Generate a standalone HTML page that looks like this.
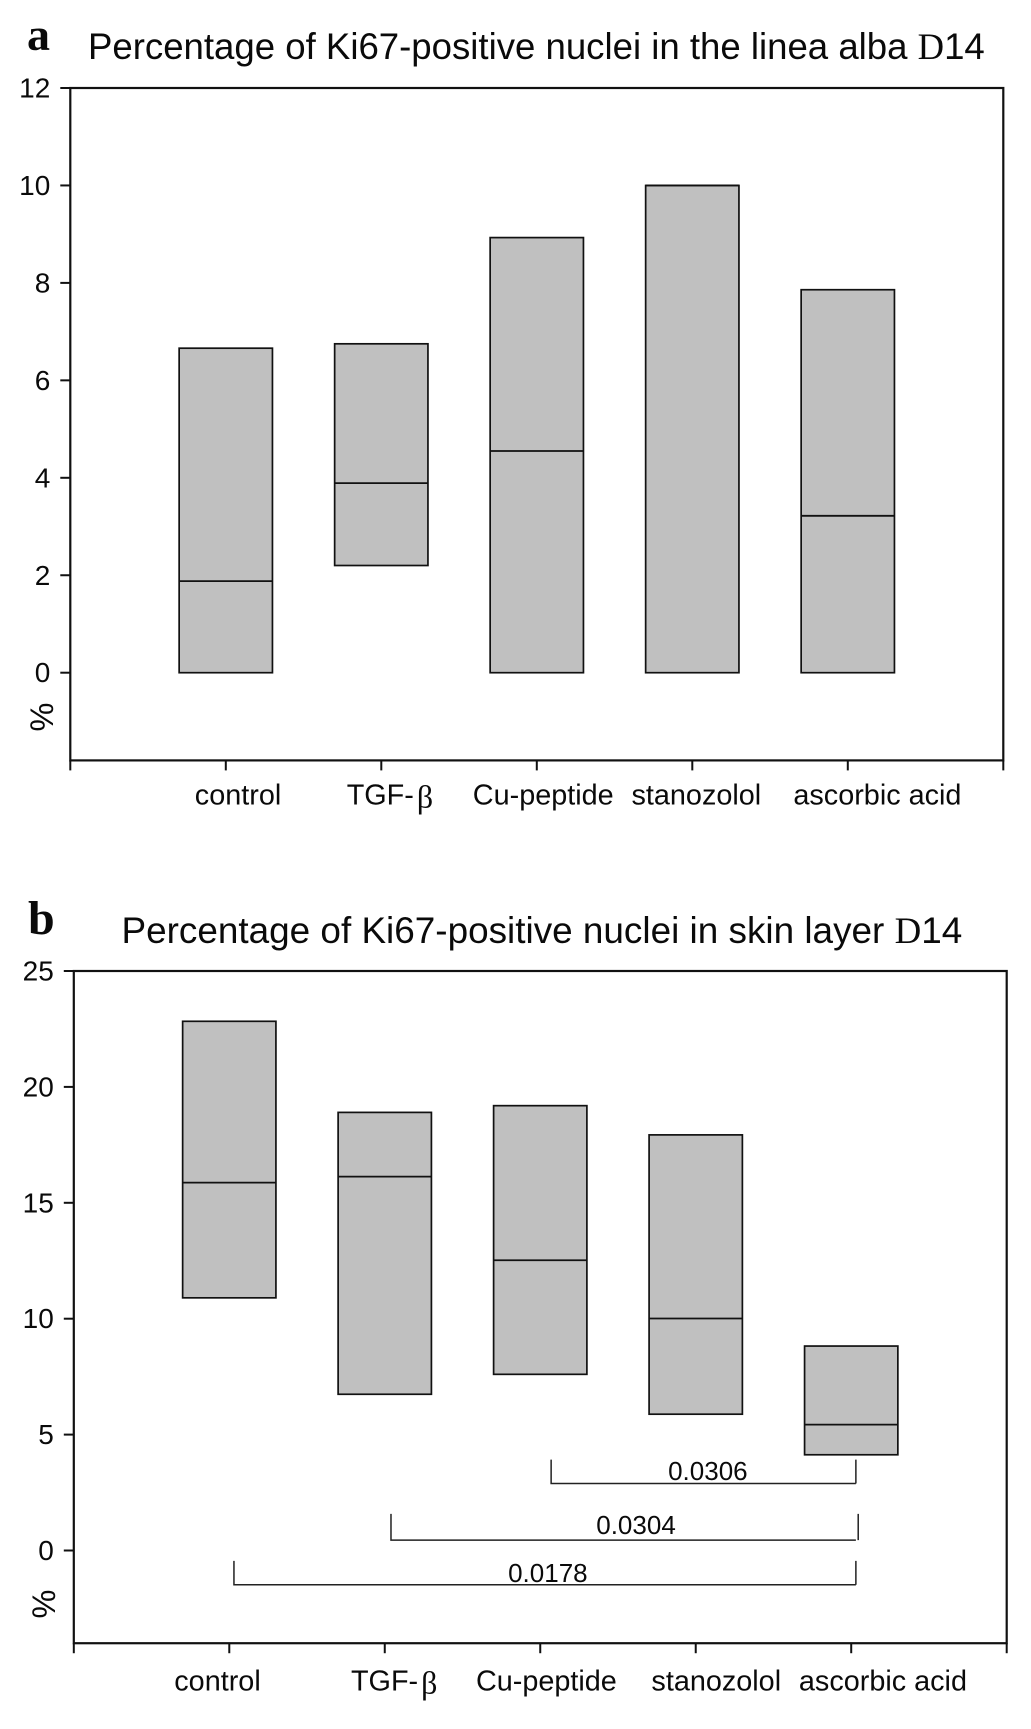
<!DOCTYPE html>
<html lang="en">
<head>
<meta charset="utf-8">
<title>Percentage of Ki67-positive nuclei</title>
<style>
html,body{margin:0;padding:0;background:#fff;}
svg{display:block;font-family:"Liberation Sans",sans-serif;fill:#0a0a0a;}
</style>
</head>
<body>
<svg id="figure" width="1031" height="1729" viewBox="0 0 1031 1729" xmlns="http://www.w3.org/2000/svg">
  <text x="27" y="50" font-family="Liberation Serif, serif" font-weight="700" font-size="46">a</text>
  <text x="88" y="59" font-size="36.6">Percentage of Ki67-positive nuclei in the linea alba <tspan font-family="Liberation Serif, serif">D</tspan>14</text>
  <text x="28" y="934" font-family="Liberation Serif, serif" font-weight="700" font-size="48">b</text>
  <text x="121.5" y="943" font-size="36.9">Percentage of Ki67-positive nuclei in skin layer <tspan font-family="Liberation Serif, serif">D</tspan>14</text>
  <text transform="translate(53,717) rotate(-90)" text-anchor="middle" font-size="32.5">%</text>
  <text transform="translate(55,1604) rotate(-90)" text-anchor="middle" font-size="32.5">%</text>
</svg>
<script>
const categories = ["control", "TGF-", "Cu-peptide", "stanozolol", "ascorbic acid"];

const panelAHigh = [6.66, 6.75, 8.93, 10, 7.86];
const panelAMedian = [1.88, 3.89, 4.55, 10, 3.22];
const panelALow = [0, 2.2, 0, 0, 0];
const panelATicks = [0, 2, 4, 6, 8, 10, 12];

const panelBHigh = [22.83, 18.9, 19.19, 17.93, 8.82];
const panelBMedian = [15.87, 16.13, 12.52, 10.01, 5.43];
const panelBLow = [10.9, 6.74, 7.6, 5.88, 4.13];
const panelBTicks = [0, 5, 10, 15, 20, 25];

const pValues = ["0.0306", "0.0304", "0.0178"];
const bracketStart = [3.07, 2.04, 1.03];
const bracketEnd = [5.03, 5.03, 5.03];
const bracketEndCap = [5.03, 5.045, 5.03];
const bracketLevel = [2.89, 0.45, -1.48];
const bracketCap = [3.92, 1.58, -0.45];

const svg = document.getElementById('figure');
const NS = 'http://www.w3.org/2000/svg';

function shape(tag, props, parent) {
  const el = document.createElementNS(NS, tag);
  for (const k in props) el.setAttribute(k, props[k]);
  parent.appendChild(el);
  return el;
}

function drawPanel(p) {
  const x = v => p.left + v * (p.right - p.left) / 6;
  const y = v => p.zeroY - v * (p.zeroY - p.topY) / p.ticks[p.ticks.length - 1];
  const bottomY = y(p.min);
  const g = shape('g', {}, svg);
  
  

  categories.forEach((c, i) => {
    const cx = x(i + 1);
    const half = 0.3 * (p.right - p.left) / 6;
    const bar = shape('rect', {
      x: cx - half, y: y(p.high[i]), width: half * 2, height: y(p.low[i]) - y(p.high[i]),
      fill: '#c0c0c0', stroke: '#111', 'stroke-width': 1.7
    }, g);
    
    
    const med = shape('line', {
      x1: cx - half, x2: cx + half, y1: y(p.median[i]), y2: y(p.median[i]),
      stroke: '#111', 'stroke-width': 1.8
    }, g);
    
    
  });

  const frame = shape('rect', {
    x: p.left, y: p.topY, width: p.right - p.left, height: bottomY - p.topY,
    fill: 'none', stroke: '#111', 'stroke-width': 2.2
  }, g);
  
  

  p.ticks.forEach(t => {
    const tick = shape('line', {
      x1: p.left - 10, x2: p.left, y1: y(t), y2: y(t), stroke: '#111', 'stroke-width': 2
    }, g);
    
    
    const label = shape('text', {
      x: p.left - 20, y: y(t) + 9.5, 'text-anchor': 'end', 'font-size': 28
    }, g);
    label.textContent = t;
    
    
  });

  for (let i = 0; i <= 6; i++) {
    const tick = shape('line', {
      x1: x(i), x2: x(i), y1: bottomY, y2: bottomY + 10, stroke: '#111', 'stroke-width': 2
    }, g);
    
    
  }

  categories.forEach((c, i) => {
    const label = shape('text', {
      x: x(i + 1) + p.labelShift[i], y: p.labelY, 'font-size': 28.8
    }, g);
    label.textContent = c;
    if (c.endsWith('-')) {
      const beta = shape('tspan', { 'font-family': 'Liberation Serif, serif', 'font-size': 32, dx: 3, dy: 3 }, label);
      beta.textContent = 'β';
    }
    
    
  });

  return { x, y, g };
}

drawPanel({
  id: 'panel-a', left: 70.3, right: 1003.3, topY: 88, zeroY: 672.7, min: -1.8,
  ticks: panelATicks, high: panelAHigh, median: panelAMedian, low: panelALow,
  labelY: 804.5, labelShift: [-31, -34.6, -64, -60.8, -54.4]
});

const b = drawPanel({
  id: 'panel-b', left: 73.8, right: 1006.7, topY: 971, zeroY: 1550.5, min: -4,
  ticks: panelBTicks, high: panelBHigh, median: panelBMedian, low: panelBLow,
  labelY: 1690.5, labelShift: [-55, -33.8, -64.3, -44.3, -52.3]
});

const pLabelOffset = [0.028, 0.081, 0.019];
const pLabelLift = [3.5, 6, 3];
pValues.forEach((v, i) => {
  const bracket = shape('path', {
    d: 'M' + b.x(bracketStart[i]) + ' ' + b.y(bracketCap[i]) +
       'V' + b.y(bracketLevel[i]) +
       'H' + b.x(bracketEnd[i]) +
       'M' + b.x(bracketEndCap[i]) + ' ' + b.y(bracketLevel[i]) +
       'V' + b.y(bracketCap[i]),
    fill: 'none', stroke: '#222', 'stroke-width': 1.5
  }, b.g);
  
  
  const label = shape('text', {
    x: b.x((bracketStart[i] + bracketEnd[i]) / 2 + pLabelOffset[i]),
    y: b.y(bracketLevel[i]) - pLabelLift[i],
    'text-anchor': 'middle', 'font-size': 26
  }, b.g);
  label.textContent = v;
  
  
});
</script>
</body>
</html>
